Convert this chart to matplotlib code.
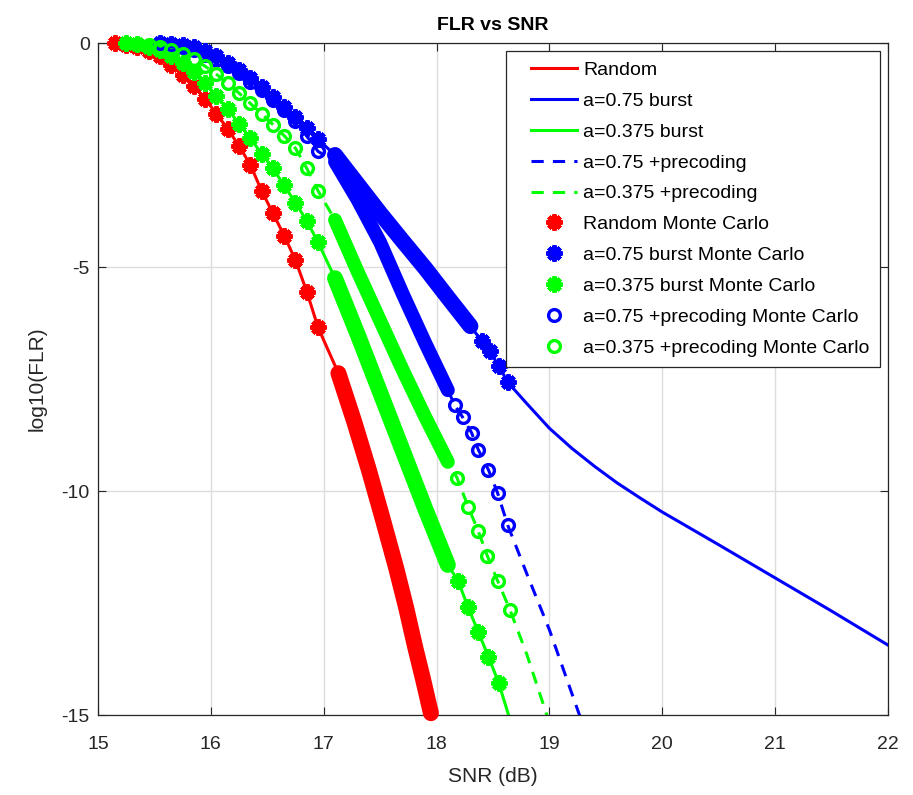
import numpy as np
import matplotlib.pyplot as plt
from matplotlib.lines import Line2D
from matplotlib.legend_handler import HandlerLine2D

plt.rcParams['font.family'] = ['Liberation Sans', 'DejaVu Sans']
plt.rcParams['axes.unicode_minus'] = False

# ---- Random ----
red_snr = [15.15, 15.25, 15.35, 15.45, 15.55, 15.65, 15.75, 15.85, 15.95, 16.05,
           16.15, 16.25, 16.35, 16.45, 16.55, 16.65, 16.75, 16.85, 16.95]
red_mc = [0.0, -0.04, -0.1, -0.17, -0.29, -0.48, -0.72, -0.97, -1.25, -1.58,
          -1.92, -2.3, -2.72, -3.3, -3.8, -4.3, -4.85, -5.55, -6.35]
red_band_snr = [17.13, 17.27, 17.4, 17.52, 17.64, 17.73, 17.81, 17.88, 17.95]
red_band = [-7.37, -8.45, -9.53, -10.6, -11.7, -12.6, -13.48, -14.2, -14.96]

# ---- a=0.375 burst ----
g_snr = [15.25, 15.35, 15.45, 15.55, 15.65, 15.75, 15.85, 15.95, 16.05, 16.15,
         16.25, 16.35, 16.45, 16.55, 16.65, 16.75, 16.85, 16.95,
         18.19, 18.28, 18.37, 18.46, 18.55]
g_mc = [0.0, -0.03, -0.08, -0.16, -0.28, -0.45, -0.65, -0.9, -1.18, -1.48,
        -1.8, -2.13, -2.47, -2.8, -3.18, -3.57, -3.97, -4.45,
        -12.0, -12.6, -13.15, -13.7, -14.28]
g_band_snr = [17.1, 17.3, 17.5, 17.7, 17.9, 18.1]
g_band = [-5.25, -6.5, -7.8, -9.1, -10.4, -11.65]
g_tail_snr = [18.65]
g_tail = [-15.1]

# ---- a=0.375 +precoding ----
gp_snr = [15.35, 15.45, 15.55, 15.65, 15.75, 15.85, 15.95, 16.05, 16.15, 16.25,
          16.35, 16.45, 16.55, 16.65, 16.75, 16.85, 16.95,
          18.18, 18.28, 18.37, 18.45, 18.54, 18.65]
gp_mc = [-0.02, -0.05, -0.09, -0.15, -0.24, -0.36, -0.52, -0.7, -0.9, -1.12,
         -1.35, -1.58, -1.82, -2.07, -2.35, -2.8, -3.3,
         -9.7, -10.35, -10.9, -11.45, -12.0, -12.65]
gp_band_snr = [17.1, 17.3, 17.5, 17.7, 17.9, 18.1]
gp_band = [-3.95, -5.1, -6.2, -7.3, -8.35, -9.35]
gp_tail_snr = [18.8, 18.99]
gp_tail = [-13.65, -15.1]

# ---- a=0.75 burst ----
b_snr = [15.55, 15.65, 15.75, 15.85, 15.95, 16.05, 16.15, 16.25, 16.35, 16.45,
         16.55, 16.65, 16.75, 16.85, 16.95,
         18.4, 18.47, 18.55, 18.63]
b_mc = [0.0, -0.02, -0.05, -0.1, -0.18, -0.3, -0.44, -0.6, -0.78, -0.98,
        -1.2, -1.42, -1.65, -1.9, -2.15,
        -6.65, -6.88, -7.2, -7.57]
b_band_snr = [17.1, 17.3, 17.5, 17.7, 17.9, 18.1, 18.3]
b_band = [-2.5, -3.15, -3.8, -4.42, -5.03, -5.68, -6.32]
b_tail_snr = [18.8, 19.0, 19.2, 19.4, 19.6, 19.8, 20.0, 20.5, 21.0, 21.5, 22.0]
b_tail = [-8.05, -8.6, -9.05, -9.45, -9.82, -10.15, -10.47, -11.2, -11.94,
          -12.68, -13.44]

# ---- a=0.75 +precoding ----
bp_snr = [15.55, 15.65, 15.75, 15.85, 15.95, 16.05, 16.15, 16.25, 16.35, 16.45,
          16.55, 16.65, 16.75, 16.85, 16.95,
          18.16, 18.23, 18.31, 18.37, 18.46, 18.54, 18.63]
bp_mc = [0.0, -0.03, -0.08, -0.16, -0.26, -0.38, -0.52, -0.68, -0.86, -1.06,
         -1.28, -1.5, -1.75, -2.08, -2.42,
         -8.08, -8.35, -8.7, -9.08, -9.53, -10.04, -10.76]
bp_band_snr = [17.1, 17.3, 17.5, 17.7, 17.9, 18.1]
bp_band = [-2.65, -3.5, -4.45, -5.6, -6.7, -7.75]
bp_tail_snr = [18.8, 19.0, 19.28]
bp_tail = [-11.85, -13.1, -15.1]


def curve(*parts):
    """Join (snr, value) lists into one SNR-sorted curve."""
    x = np.concatenate([np.asarray(p[0], float) for p in parts])
    y = np.concatenate([np.asarray(p[1], float) for p in parts])
    order = np.argsort(x)
    return x[order], y[order]


RED, BLUE, GREEN = (1, 0, 0), (0, 0, 1), (0, 1, 0)
AST = (8, 2, 0)
INK = '#262626'

fig = plt.figure(figsize=(9.13, 7.95), dpi=100)
ax = fig.add_axes([98 / 913, 80 / 795, 790 / 913, 672 / 795])

# analytic curves
lw = 2.2
ax.plot(*curve((red_snr, red_mc), (red_band_snr, red_band)),
        color=RED, lw=lw, label='Random')
ax.plot(*curve((b_snr, b_mc), (b_band_snr, b_band), (b_tail_snr, b_tail)),
        color=BLUE, lw=lw, label='a=0.75 burst')
ax.plot(*curve((g_snr, g_mc), (g_band_snr, g_band), (g_tail_snr, g_tail)),
        color=GREEN, lw=lw, label='a=0.375 burst')
ax.plot(*curve((bp_snr, bp_mc), (bp_band_snr, bp_band), (bp_tail_snr, bp_tail)),
        color=BLUE, lw=lw, dashes=(4, 3), label='a=0.75 +precoding')
ax.plot(*curve((gp_snr, gp_mc), (gp_band_snr, gp_band), (gp_tail_snr, gp_tail)),
        color=GREEN, lw=lw, dashes=(4, 3), label='a=0.375 +precoding')

# Monte Carlo points: sparse markers + the densely sampled stretch as a band
mc = [
    (red_snr, red_mc, red_band_snr, red_band, RED, AST, 'Random Monte Carlo'),
    (b_snr, b_mc, b_band_snr, b_band, BLUE, AST, 'a=0.75 burst Monte Carlo'),
    (g_snr, g_mc, g_band_snr, g_band, GREEN, AST, 'a=0.375 burst Monte Carlo'),
    (bp_snr, bp_mc, bp_band_snr, bp_band, BLUE, 'o', 'a=0.75 +precoding Monte Carlo'),
    (gp_snr, gp_mc, gp_band_snr, gp_band, GREEN, 'o', 'a=0.375 +precoding Monte Carlo'),
]
for i, (xs, ys, bx, by, c, m, lab) in enumerate(mc):
    z = 3 + i
    if m == 'o':
        ax.plot(bx, by, color=c, lw=10, solid_capstyle='round', zorder=z,
                clip_on=False)
        ax.plot(xs, ys, ls='none', marker='o', ms=8.5, mew=2.4, mfc='none',
                mec=c, zorder=z, clip_on=False, label=lab)
    else:
        ax.plot(bx, by, color=c, lw=11.5, solid_capstyle='round', zorder=z,
                clip_on=False)
        ax.plot(xs, ys, ls='none', marker=m, ms=11.5, mew=3.2, mec=c, color=c,
                zorder=z, clip_on=False, label=lab)

ax.set_xlim(15, 22)
ax.set_ylim(-15, 0)
ax.set_xticks(range(15, 23))
ax.set_yticks([-15, -10, -5, 0])
ax.grid(True, color='#dcdcdc', lw=1)
ax.set_axisbelow(True)
ax.tick_params(direction='in', top=True, right=True, length=6, width=0.8,
               labelsize=14, colors=INK)
ax.tick_params(axis='x', pad=15)
ax.tick_params(axis='y', pad=6)
for s in ax.spines.values():
    s.set_color(INK)
    s.set_linewidth(0.9)

ax.set_title('FLR vs SNR', fontsize=14, fontweight='bold', pad=9)
ax.set_xlabel('SNR (dB)', fontsize=15, color=INK, labelpad=10)
ax.set_ylabel('log10(FLR)', fontsize=15, color=INK, labelpad=11)

leg = ax.legend(loc='upper right', fontsize=14, handlelength=3.1,
                handletextpad=0.3, labelspacing=0.68, borderpad=0.55,
                borderaxespad=0.4, numpoints=1, fancybox=False,
                framealpha=1, edgecolor=INK,
                handler_map={Line2D: HandlerLine2D(xpad=0.7)})
leg.get_frame().set_linewidth(0.9)

fig.savefig('out.png', dpi=100)
